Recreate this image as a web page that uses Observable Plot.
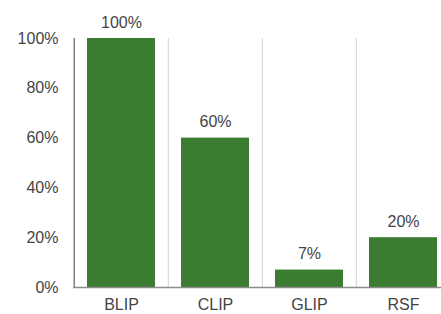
<!DOCTYPE html>
<html>
<head>
<meta charset="utf-8">
<script src="https://cdn.jsdelivr.net/npm/d3@7"></script>
<script src="https://cdn.jsdelivr.net/npm/@observablehq/plot@0.6"></script>
<style>
  html, body { margin: 0; padding: 0; background: #fff; }
  #chart svg { display: block; overflow: visible; }
</style>
</head>
<body>
<div id="chart"></div>
<script>
const categories = ["BLIP", "CLIP", "GLIP", "RSF"];
const values = [100, 60, 7, 20];
const labels = ["100%", "60%", "7%", "20%"];
const yTicks = [0, 20, 40, 60, 80, 100];

const data = categories.map((c, i) => ({ cat: c, value: values[i], label: labels[i] }));

const W = 441, H = 314;
const xRange = [73, 451];
const bw = (xRange[1] - xRange[0]) / categories.length;
const font = "'Liberation Sans', Arial, sans-serif";
const textColor = "#444444";

const chart = Plot.plot({
  width: W,
  height: H,
  marginLeft: 73,
  marginRight: 0,
  marginTop: 38,
  marginBottom: 27,
  style: { fontFamily: font, fontSize: "16px", color: textColor, background: "#fff" },
  x: { domain: categories, range: xRange, paddingInner: 0.28, paddingOuter: 0.14, label: null },
  y: { domain: [0, 100], label: null },
  marks: [
    Plot.ruleX(categories.slice(1), { x: d => d, dx: -bw / 2, stroke: "#d0d0d0", strokeWidth: 1 }),
    Plot.ruleX(categories.slice(0, 1), { x: d => d, dx: -bw / 2, stroke: "#808080", strokeWidth: 1.5 }),
    Plot.barY(data, { x: "cat", y: "value", fill: "#3c7b32" }),
    Plot.ruleY([0], { stroke: "#8c8c8c", strokeWidth: 1.5 }),
    Plot.text(data, { x: "cat", y: "value", text: "label", dy: -16, fill: textColor, fontSize: 16 }),
    Plot.axisY({ ticks: yTicks, tickFormat: d => d + "%", tickSize: 0, tickPadding: 15, fontSize: 16, fill: textColor, label: null }),
    Plot.axisX({ tickSize: 0, tickPadding: 11, fontSize: 16, fill: textColor, label: null })
  ]
});
document.getElementById("chart").appendChild(chart);
</script>
</body>
</html>
